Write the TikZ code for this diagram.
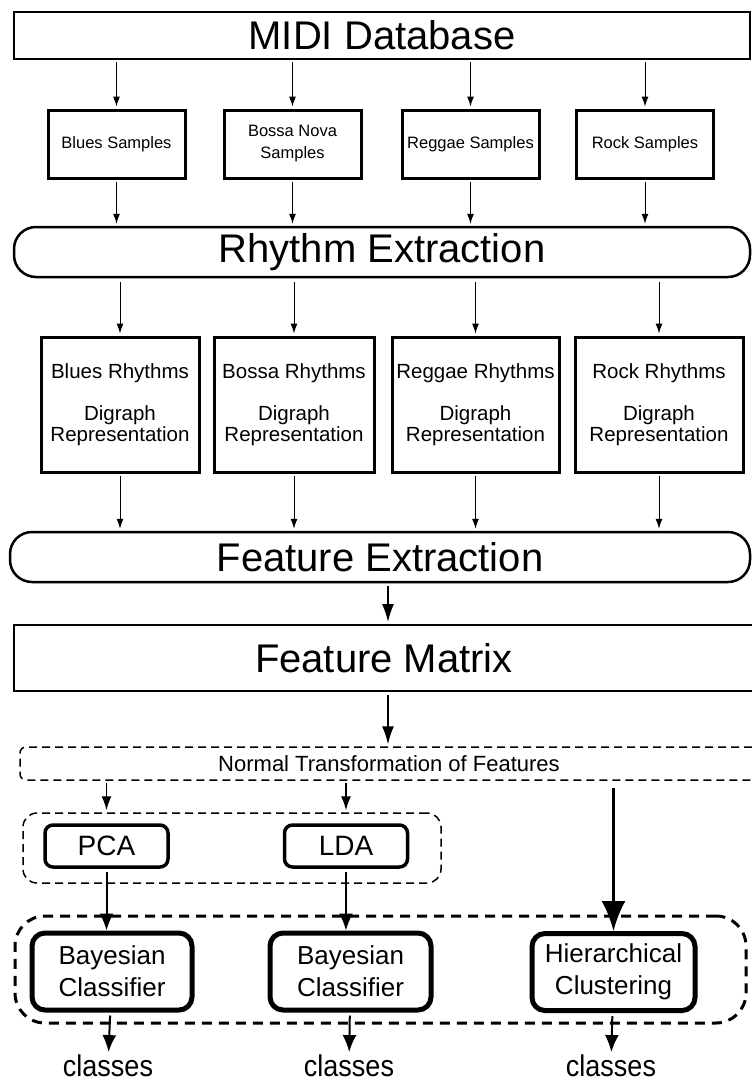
\documentclass[tikz,border=0pt]{standalone}
\usepackage{fontspec}
\setmainfont{Liberation Sans}
\newfontfamily\narrowsans[FakeStretch=0.9]{Liberation Sans}
\usetikzlibrary{arrows.meta}

\begin{document}
\begin{tikzpicture}[x=1pt,y=-1pt,>={Latex[length=10pt,width=7pt]}]
\tikzset{
  dbbox/.style={draw,line width=2pt,minimum width=736pt,minimum height=47pt,inner sep=0pt,font=\fontsize{40}{48}\selectfont},
  stagebox/.style={draw,line width=2.5pt,rounded corners=22pt,minimum width=736pt,minimum height=50pt,inner sep=0pt,font=\fontsize{40}{48}\selectfont},
  samplebox/.style={draw,line width=3pt,minimum width=137pt,minimum height=68pt,inner sep=1pt,align=center,font=\fontsize{16.5}{22}\selectfont},
  rhythmbox/.style={draw,line width=3pt,minimum height=135pt,inner sep=1pt,align=center,font=\fontsize{20.5}{21}\selectfont},
  ntbox/.style={draw,line width=1.5pt,dash pattern=on 8pt off 5pt,rounded corners=6pt,minimum width=738pt,minimum height=33pt,inner sep=0pt,font=\fontsize{22}{26}\selectfont},
  groupbox/.style={draw,line width=1.5pt,dash pattern=on 8pt off 5pt,rounded corners=14pt,minimum width=418pt,minimum height=70pt},
  bigbox/.style={draw,line width=3pt,dash pattern=on 10pt off 7pt,rounded corners=30pt,minimum width=731pt,minimum height=107pt},
  methodbox/.style={draw,line width=3.5pt,rounded corners=8pt,minimum width=123pt,minimum height=42pt,inner sep=0pt,font=\fontsize{28}{32}\selectfont},
  classifierbox/.style={draw,line width=5pt,rounded corners=13pt,minimum width=160pt,minimum height=77pt,inner sep=0pt,align=center,font=\fontsize{26}{32}\selectfont},
  outlabel/.style={inner sep=0pt,font=\narrowsans\fontsize{30}{34}\selectfont},
  flow/.style={->,line width=1pt,shorten <=2pt,shorten >=2pt},
  midflow/.style={line width=1.5pt,-{Latex[length=18pt,width=12pt]},shorten <=3pt,shorten >=2pt},
  hierflow/.style={line width=2.7pt,-{Latex[length=30pt,width=24pt]},shorten <=7pt},
  outflow/.style={line width=2pt,-{Latex[length=17pt,width=14pt]},shorten <=3pt,shorten >=2pt}
}
\useasboundingbox (0,0) rectangle (752,1082);

% sources
\node[dbbox] (midi) at (382,35.5) {MIDI Database};
\node[samplebox] (bluess) at (116.5,144) {Blues Samples};
\node[samplebox] (bossas) at (292.5,144) {Bossa Nova\\Samples};
\node[samplebox] (reggaes) at (470.5,144) {Reggae Samples};
\node[samplebox] (rocks) at (645,144) {Rock Samples};

\draw[flow] (bluess |- midi.south) -- (bluess);
\draw[flow] (bossas |- midi.south) -- (bossas);
\draw[flow] (reggaes |- midi.south) -- (reggaes);
\draw[flow] (rocks |- midi.south) -- (rocks);

% rhythms
\node[stagebox] (rhythm) at (382,252) {Rhythm Extraction};
\draw[flow] (bluess) -- (bluess |- rhythm.north);
\draw[flow] (bossas) -- (bossas |- rhythm.north);
\draw[flow] (reggaes) -- (reggaes |- rhythm.north);
\draw[flow] (rocks) -- (rocks |- rhythm.north);

\node[rhythmbox,minimum width=158pt] (bluesr) at (120,404.5) {Blues Rhythms\\[21pt]Digraph\\Representation};
\node[rhythmbox,minimum width=160pt] (bossar) at (294,404.5) {Bossa Rhythms\\[21pt]Digraph\\Representation};
\node[rhythmbox,minimum width=167pt] (reggaer) at (475.5,404.5) {Reggae Rhythms\\[21pt]Digraph\\Representation};
\node[rhythmbox,minimum width=168pt] (rockr) at (659,404.5) {Rock Rhythms\\[21pt]Digraph\\Representation};

\draw[flow,shorten <=4pt] (bluesr |- rhythm.south) -- (bluesr);
\draw[flow,shorten <=4pt] (bossar |- rhythm.south) -- (bossar);
\draw[flow,shorten <=4pt] (reggaer |- rhythm.south) -- (reggaer);
\draw[flow,shorten <=4pt] (rockr |- rhythm.south) -- (rockr);

% features
\node[stagebox,minimum width=740pt] (feature) at (380,557) {Feature Extraction};
\draw[flow] (bluesr) -- (bluesr |- feature.north);
\draw[flow] (bossar) -- (bossar |- feature.north);
\draw[flow] (reggaer) -- (reggaer |- feature.north);
\draw[flow] (rockr) -- (rockr |- feature.north);

\node[dbbox,minimum width=740pt,minimum height=66pt] (matrix) at (384,658) {Feature Matrix};
\draw[midflow] (feature.south -| 388,0) -- (matrix.north -| 388,0);

\node[ntbox] (normal) at (389,763.5) {Normal Transformation of Features};
\draw[midflow] (matrix.south -| 388,0) -- (normal.north -| 388,0);

% projections
\node[groupbox] (projgroup) at (232,848) {};
\node[methodbox] (pca) at (106.5,846) {PCA};
\node[methodbox] (lda) at (346,846) {LDA};
\draw[flow,line width=1.3pt,-{Latex[length=14pt,width=10pt]}] (pca |- normal.south) -- (pca |- projgroup.north);
\draw[flow,line width=1.3pt,-{Latex[length=14pt,width=10pt]}] (lda |- normal.south) -- (lda |- projgroup.north);

% classification
\node[bigbox] (classgroup) at (380.5,969.5) {};
\node[classifierbox] (bayes1) at (112,971.5) {Bayesian\\Classifier};
\node[classifierbox,minimum width=161pt] (bayes2) at (350.5,971.5) {Bayesian\\Classifier};
\node[classifierbox,minimum width=163pt] (hier) at (613.5,972) {Hierarchical\\Clustering};

\draw[outflow,shorten >=0pt] (pca) -- (pca |- bayes1.north);
\draw[outflow,shorten >=0pt] (lda) -- (lda |- bayes2.north);
\draw[hierflow] (hier |- normal.south) -- (hier.north);

\node[outlabel,anchor=base] (classes1) at (108,1076) {classes};
\node[outlabel,anchor=base] (classes2) at (349,1076) {classes};
\node[outlabel,anchor=base] (classes3) at (611,1076) {classes};
\draw[outflow] (bayes1) -- (classes1);
\draw[outflow] (bayes2) -- (classes2);
\draw[outflow] (hier) -- (classes3);
\end{tikzpicture}
\end{document}
